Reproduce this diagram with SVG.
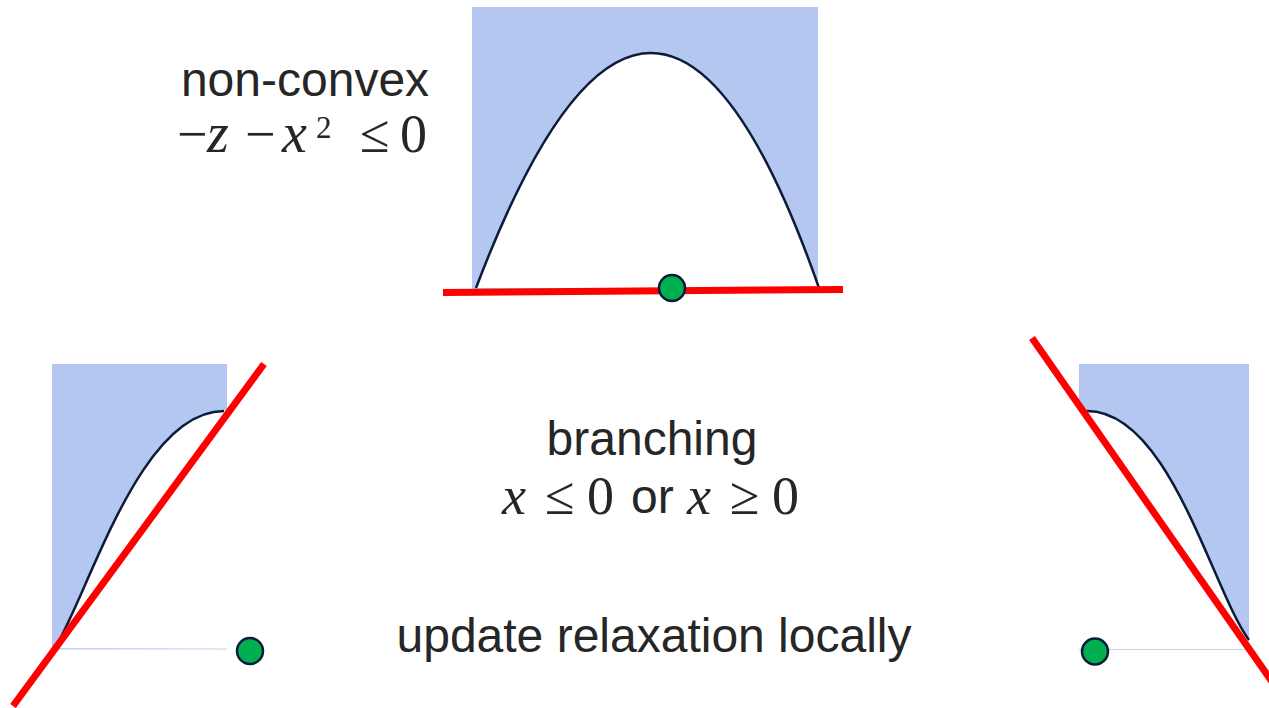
<svg xmlns="http://www.w3.org/2000/svg" width="1269" height="708" viewBox="0 0 1269 708">
<style>
.region{fill:#B4C7F0;stroke:none}
.hole{fill:#FFFFFF;stroke:none}
.curve{fill:none;stroke:#0D1B3A;stroke-width:2.5}
.base{stroke:#C5D2EE;stroke-width:1.2}
.cut{stroke:#FF0000;stroke-width:7;stroke-linecap:butt}
.pt{fill:#00B050;stroke:#0D1B3A;stroke-width:2.5}
.lbl{font-family:"Liberation Sans",Arial,sans-serif;font-size:48px;fill:#262626}
.m{font-family:"Liberation Serif","Times New Roman",serif;font-size:54px;fill:#262626}
.i{font-style:italic;font-size:56px}
.i2{font-style:italic;font-size:54px}
</style>
<rect width="1269" height="708" fill="#FFFFFF"/>
<g id="top-node">
<rect class="region" x="472" y="7" width="346" height="283"/>
<path class="hole" d="M476,288 Q654.5,-182 819,288 Z"/>
<path class="curve" d="M476,288 Q654.5,-182 819,288"/>
</g>
<g id="left-node">
<rect class="region" x="52" y="364" width="175" height="285"/>
<path class="hole" d="M55,648 C90,590 140,411 224,411 L227,409 L227,649 Z"/>
<line class="base" x1="55" y1="649" x2="227" y2="649"/>
<path class="curve" d="M55,648 C90,590 140,411 224,411"/>
</g>
<g id="right-node">
<rect class="region" x="1079" y="364" width="170" height="286"/>
<path class="hole" d="M1087,411 C1170,411 1212,590 1249,642 L1249,650 L1079,650 L1079,409 Z"/>
<line class="base" x1="1079" y1="649.5" x2="1249" y2="649.5"/>
<path class="curve" d="M1087,411 C1170,411 1212,590 1249,640"/>
</g>
<g id="connectors">
<line class="cut" x1="443" y1="292.5" x2="843" y2="289.5"/>
<line class="cut" x1="13" y1="706" x2="264" y2="364"/>
<line class="cut" x1="1032" y1="338" x2="1275" y2="686"/>
</g>
<g id="points">
<circle class="pt" cx="672" cy="288" r="13"/>
<circle class="pt" cx="250" cy="651" r="13"/>
<circle class="pt" cx="1095" cy="651.5" r="13"/>
</g>
<g id="labels">
<text class="lbl" x="305" y="96" text-anchor="middle">non-convex</text>
<text class="m" y="152"><tspan x="177">−</tspan><tspan x="207" class="i">z</tspan><tspan x="245">−</tspan><tspan x="282" class="i">x</tspan><tspan x="316" y="138" style="font-size:31px">2</tspan><tspan x="360" y="152">≤</tspan><tspan x="400">0</tspan></text>
<text class="lbl" x="652" y="455" text-anchor="middle">branching</text>
<text class="m" y="514"><tspan x="502" class="i2">x</tspan><tspan x="545">≤</tspan><tspan x="587">0</tspan></text>
<text class="lbl" x="631" y="513">or</text>
<text class="m" y="514"><tspan x="687" class="i2">x</tspan><tspan x="730">≥</tspan><tspan x="772">0</tspan></text>
<text class="lbl" x="654" y="652" text-anchor="middle">update relaxation locally</text>
</g>
</svg>
